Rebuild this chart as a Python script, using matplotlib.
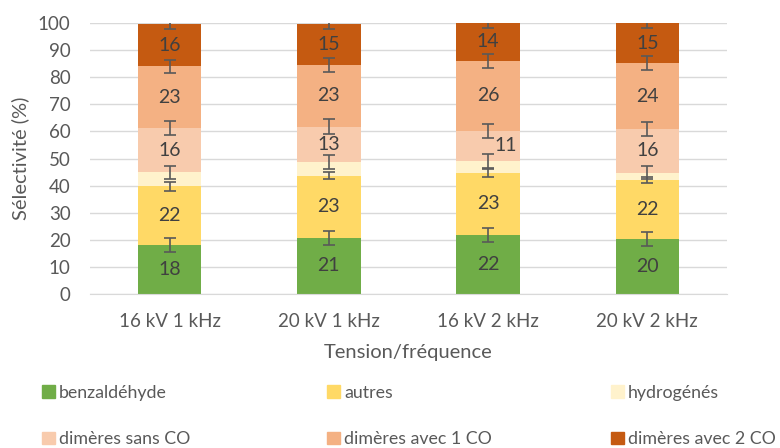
import numpy as np
import matplotlib
matplotlib.use("Agg")
from matplotlib import pyplot as plt
from matplotlib.patches import Patch

plt.rcParams['font.family'] = ['Lato', 'DejaVu Sans']

# données
categories = ['16 kV 1 kHz', '20 kV 1 kHz', '16 kV 2 kHz', '20 kV 2 kHz']
series_names = ['benzaldéhyde', 'autres', 'hydrogénés',
                'dimères sans CO', 'dimères avec 1 CO', 'dimères avec 2 CO']
benzaldehyde = [18.1, 20.8, 21.8, 20.3]
autres = [21.6, 22.9, 23.0, 21.8]
hydrogenes = [5.2, 4.9, 4.2, 2.7]
dimeres_sans_co = [16.3, 13.2, 11.3, 16.2]
dimeres_1co = [22.8, 22.7, 25.7, 24.1]
dimeres_2co = [15.6, 15.0, 14.0, 14.9]
err_benzaldehyde = [2.6, 2.6, 2.5, 2.6]
err_autres = [1.6, 1.4, 1.5, 1.0]
err_hydrogenes = [2.5, 2.6, 2.6, 2.5]
err_sans_co = [2.6, 2.7, 2.6, 2.6]
err_1co = [2.5, 2.6, 2.6, 2.6]
err_2co = [1.8, 1.8, 1.8, 1.8]

series = [benzaldehyde, autres, hydrogenes, dimeres_sans_co, dimeres_1co, dimeres_2co]
errors = [err_benzaldehyde, err_autres, err_hydrogenes, err_sans_co, err_1co, err_2co]
colors = ['#70AD47', '#FFD966', '#FFF2CC', '#F8CBAD', '#F4B183', '#C55A11']
show_label = [True, True, False, True, True, True]

grey = '#595959'

fig = plt.figure(figsize=(7.8, 4.48), dpi=100)
ax = fig.add_axes([90 / 780, 1 - 294 / 448, 637 / 780, 271 / 448])

x = np.arange(len(categories))
bottom = np.zeros(len(categories))
for vals, errs, col, name, lab in zip(series, errors, colors, series_names, show_label):
    vals = np.array(vals)
    ax.bar(x, vals, 0.4, bottom=bottom, color=col, zorder=2, label=name)
    top = bottom + vals
    ax.errorbar(x, top, yerr=errs, fmt='none', ecolor=grey, elinewidth=1.2,
                capsize=4, capthick=1.2, zorder=3)
    if lab:
        for i in range(len(x)):
            dx = 0.0
            # étiquette déplacée à la main dans l'original
            if round(vals[i]) == 11:
                dx = 0.11
            ax.text(x[i] + dx, bottom[i] + vals[i] / 2, f'{round(vals[i])}',
                    ha='center', va='center', fontsize=14, color='#404040', zorder=4)
    bottom = top

ax.set_xlim(-0.5, len(categories) - 0.5)
ax.set_ylim(0, 100)
ax.set_yticks(range(0, 101, 10))
ax.set_xticks(x)
ax.set_xticklabels(categories)
ax.yaxis.grid(True, color='#D9D9D9', linewidth=1, zorder=0)
ax.set_axisbelow(True)
for s in ['top', 'right', 'left']:
    ax.spines[s].set_visible(False)
ax.spines['bottom'].set_color('#D9D9D9')
ax.tick_params(axis='both', length=0, labelsize=13.5, colors=grey)
ax.tick_params(axis='y', pad=14)
ax.tick_params(axis='x', pad=14)
ax.set_ylabel('Sélectivité (%)', fontsize=14.5, color=grey, labelpad=6)
ax.set_xlabel('Tension/fréquence', fontsize=14.5, color=grey, labelpad=10)

# légende en trois colonnes
col_x = [42 / 780, 327 / 780, 611 / 780]
for j in range(3):
    handles = [Patch(color=colors[j]), Patch(color=colors[j + 3])]
    fig.legend(handles, [series_names[j], series_names[j + 3]],
               loc='upper left', bbox_to_anchor=(col_x[j], 1 - 385 / 448),
               frameon=False, fontsize=12.8, labelcolor=grey,
               borderpad=0, borderaxespad=0,
               handlelength=0.72, handleheight=0.72, handletextpad=0.25,
               labelspacing=1.7)

fig.savefig('out.png', dpi=100)
